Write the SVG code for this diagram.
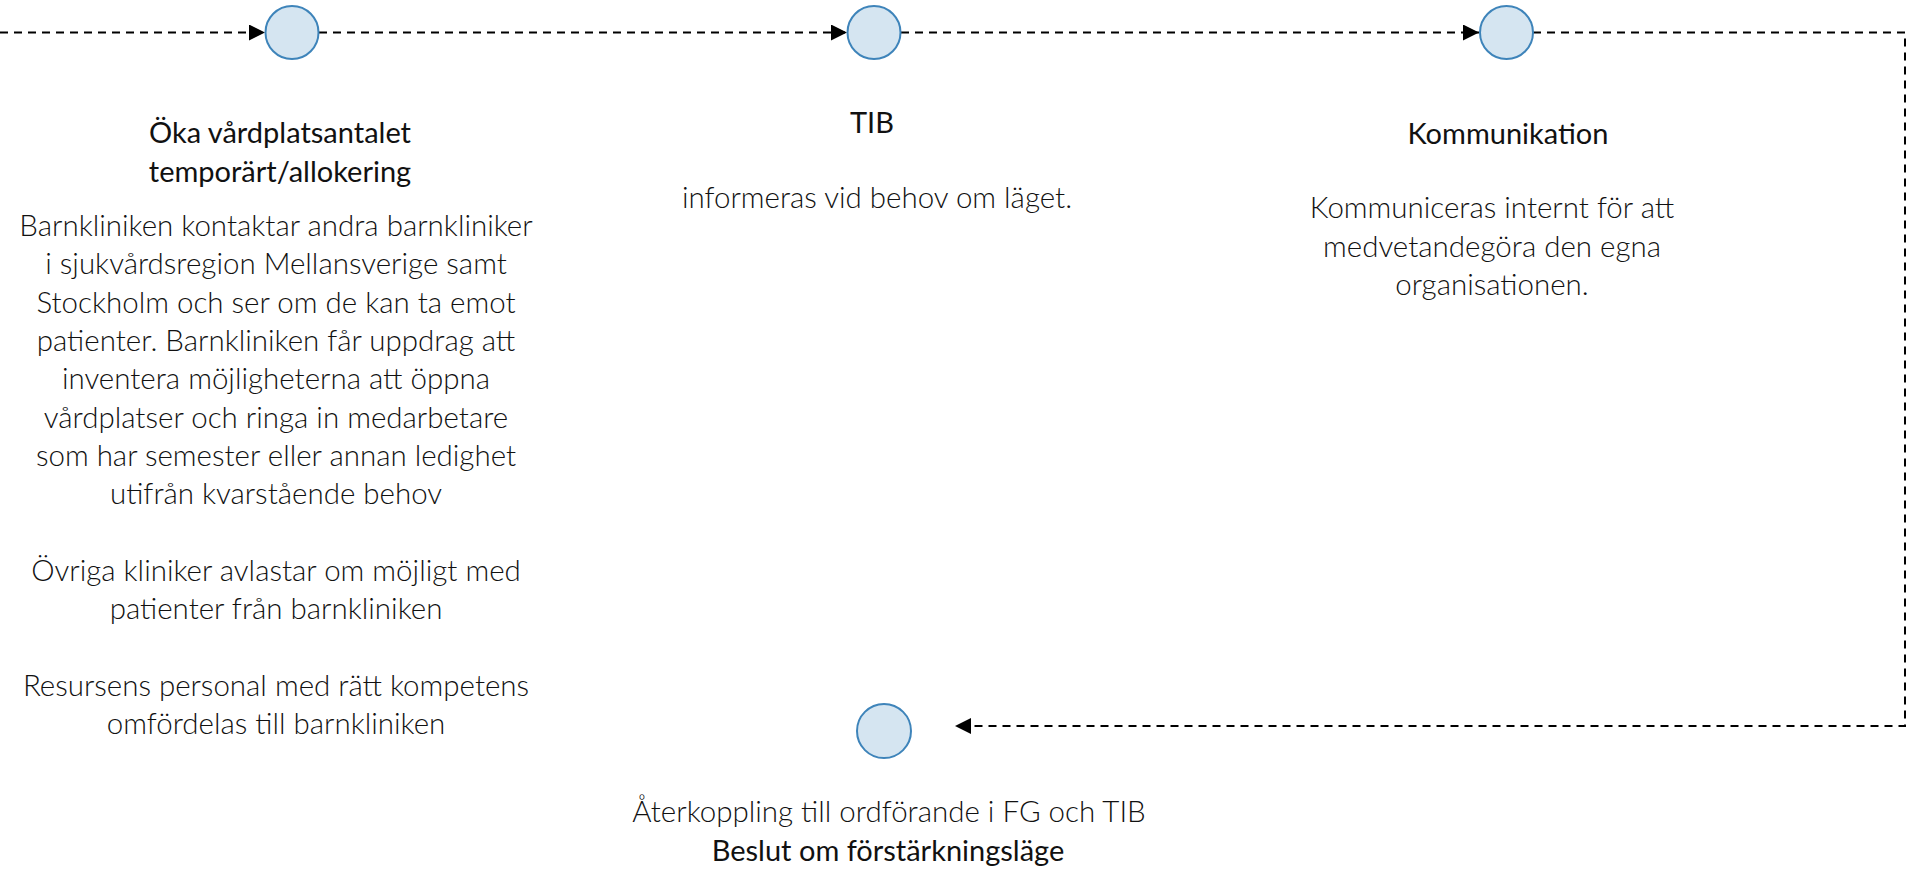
<svg xmlns="http://www.w3.org/2000/svg" width="1908" height="876" viewBox="0 0 1908 876">
<style>
.node circle{fill:#d5e5f1;stroke:#3e84ba;stroke-width:2}
.t{font-family:Lato,"Open Sans","Liberation Sans",sans-serif;font-size:29.5px;fill:#111;text-anchor:middle}
.h{font-weight:400;font-size:29px}
.b{font-weight:300}
.conn path{fill:none;stroke:#000;stroke-width:2;stroke-dasharray:8 6}
</style>
<defs>
<marker id="arr" markerUnits="userSpaceOnUse" markerWidth="16" markerHeight="16" viewBox="0 0 16 16" refX="16" refY="8" orient="auto">
<path d="M0,0 L16,8 L0,16 Z" fill="#000"/>
</marker>
</defs>
<rect width="1908" height="876" fill="#fff"/>
<g id="connectors" class="conn">
<path d="M0,32.5 H265" marker-end="url(#arr)"/>
<path d="M319,32.5 H847" marker-end="url(#arr)"/>
<path d="M901,32.5 H1479" marker-end="url(#arr)"/>
<path d="M1533,32.5 H1905 V726 H955" marker-end="url(#arr)"/>
</g>
<g id="node1" class="node">
<circle cx="292" cy="32.5" r="26.5"/>
<text class="t h" x="280" y="143">Öka vårdplatsantalet</text>
<text class="t h" x="280" y="182">temporärt/allokering</text>
<text class="t b" x="276" y="236">Barnkliniken kontaktar andra barnkliniker</text>
<text class="t b" x="276" y="274.3">i sjukvårdsregion Mellansverige samt</text>
<text class="t b" x="276" y="312.7">Stockholm och ser om de kan ta emot</text>
<text class="t b" x="276" y="351">patienter. Barnkliniken får uppdrag att</text>
<text class="t b" x="276" y="389.3">inventera möjligheterna att öppna</text>
<text class="t b" x="276" y="427.7">vårdplatser och ringa in medarbetare</text>
<text class="t b" x="276" y="466">som har semester eller annan ledighet</text>
<text class="t b" x="276" y="504.3">utifrån kvarstående behov</text>
<text class="t b" x="276" y="581">Övriga kliniker avlastar om möjligt med</text>
<text class="t b" x="276" y="619.3">patienter från barnkliniken</text>
<text class="t b" x="276" y="696">Resursens personal med rätt kompetens</text>
<text class="t b" x="276" y="734.3">omfördelas till barnkliniken</text>
</g>
<g id="node2" class="node">
<circle cx="874" cy="32.5" r="26.5"/>
<text class="t h" x="872" y="133">TIB</text>
<text class="t b" x="877" y="208">informeras vid behov om läget.</text>
</g>
<g id="node3" class="node">
<circle cx="1506.5" cy="32.5" r="26.5"/>
<text class="t h" x="1508" y="144">Kommunikation</text>
<text class="t b" x="1492" y="218">Kommuniceras internt för att</text>
<text class="t b" x="1492" y="256.5">medvetandegöra den egna</text>
<text class="t b" x="1492" y="295">organisationen.</text>
</g>
<g id="node4" class="node">
<circle cx="884" cy="731" r="27"/>
<text class="t b" x="889" y="822">Återkoppling till ordförande i FG och TIB</text>
<text class="t h" x="888" y="861">Beslut om förstärkningsläge</text>
</g>
</svg>
